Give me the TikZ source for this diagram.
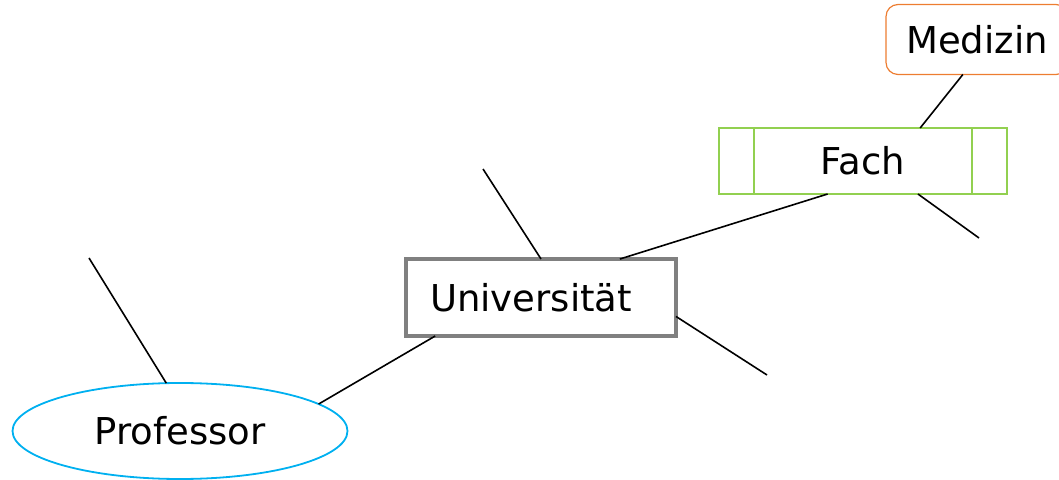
\documentclass[tikz,border=0pt]{standalone}
\usepackage{fontspec}
\setmainfont{DejaVu Sans}
\usepackage{tikz}
\usetikzlibrary{shapes.geometric}

\definecolor{medizinorange}{HTML}{ED7D31}
\definecolor{fachgreen}{HTML}{92D050}
\definecolor{unigray}{HTML}{808080}
\definecolor{profblue}{HTML}{00B0F0}

\begin{document}
\begin{tikzpicture}[x=1pt, y=1pt,
  every node/.style={inner sep=0pt, outer sep=0pt, font=\fontsize{37}{44}\selectfont},
  rel/.style={draw=black, line width=1.6pt},
  wordbox/.style={draw=medizinorange, line width=1.2pt, rounded corners=12pt, minimum width=182pt, minimum height=70pt},
  weakbox/.style={draw=fachgreen, line width=1.8pt, minimum width=288pt, minimum height=66pt,
    path picture={
      \draw[fachgreen, line width=1.8pt] ([xshift=35pt]path picture bounding box.north west) -- ([xshift=35pt]path picture bounding box.south west);
      \draw[fachgreen, line width=1.8pt] ([xshift=-35pt]path picture bounding box.north east) -- ([xshift=-35pt]path picture bounding box.south east);
    }},
  entbox/.style={draw=unigray, line width=4pt, fill=white, minimum width=270pt, minimum height=77pt},
  attr/.style={ellipse, draw=profblue, line width=1.8pt, minimum width=335pt, minimum height=96pt}]

\useasboundingbox (0,0) rectangle (1059,479);

\node [wordbox] (medizin) at (977,439.5) {Medizin};
\node [weakbox] (fach) at (863,318) {Fach};
\node [entbox] (uni) at (541,181.5) {Universit\"at\hspace{20pt}\mbox{}};
\node [attr] (prof) at (180,48) {Professor};

\coordinate (fachfree) at (979,241);
\coordinate (uniup) at (483,310);
\coordinate (unidown) at (767,104);
\coordinate (proffree) at (89,221);

\draw [rel] (medizin.248) -- (fach.30);
\draw [rel] (fach.223) -- (uni.26);
\draw [rel] (fach.-31) -- (fachfree);
\draw [rel] (uni.north) -- (uniup);
\draw [rel] (uni.-8) -- (unidown);
\draw [rel] (uni.200) -- (prof.11);
\draw [rel] (prof.106) -- (proffree);

\end{tikzpicture}
\end{document}
